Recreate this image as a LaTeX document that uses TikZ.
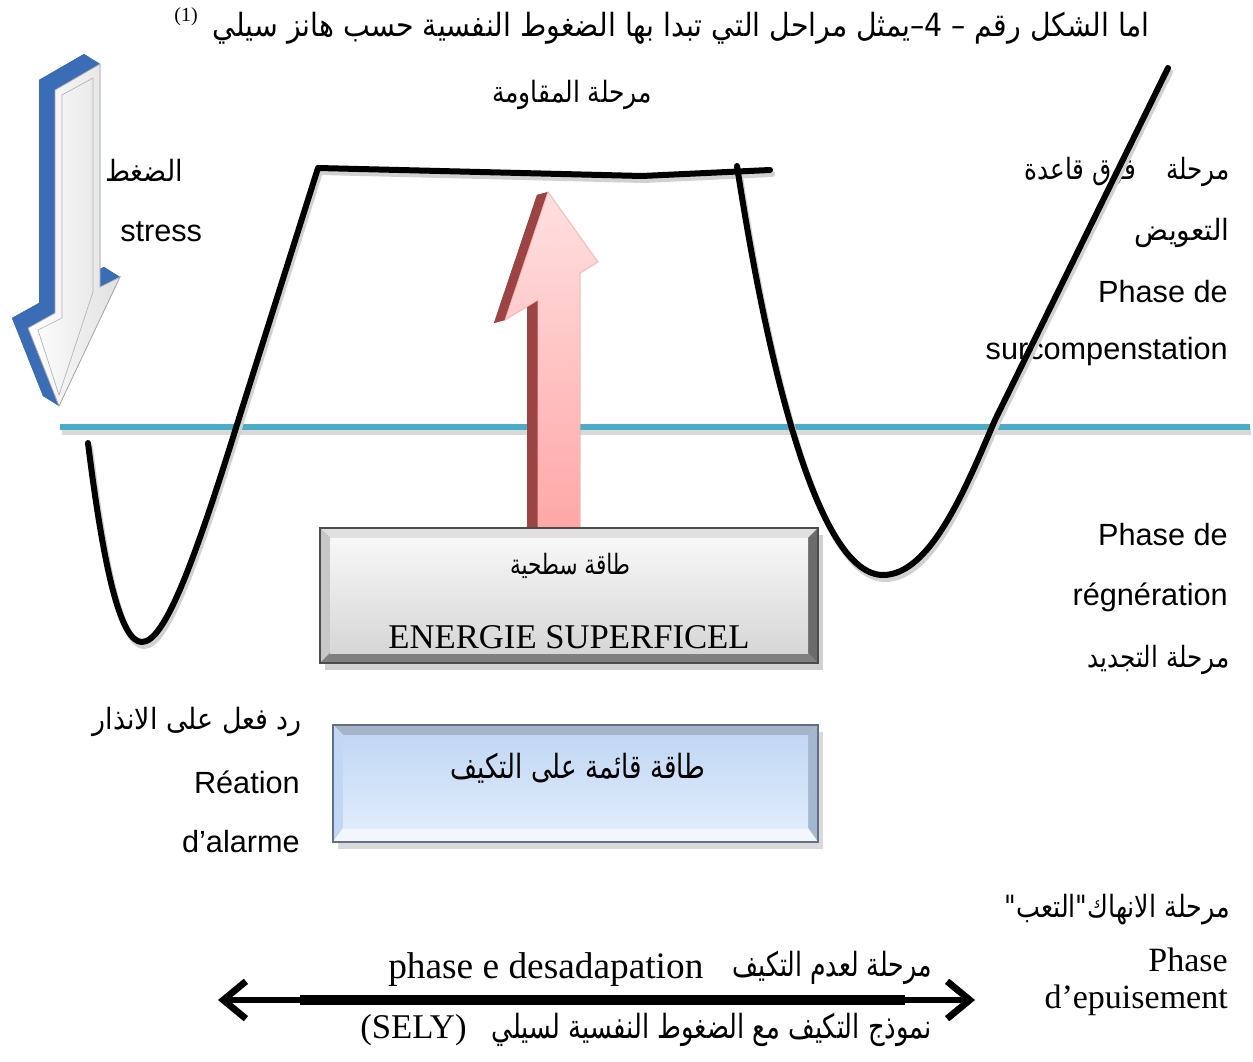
\documentclass[tikz,border=0pt]{standalone}
\usepackage{fontspec}
\usepackage{graphicx}
\setmainfont{Liberation Serif}
\newfontfamily\sanslat{Liberation Sans}
\newfontfamily\arabfont[Script=Arabic]{DejaVu Sans}
\TeXXeTstate=1
\usetikzlibrary{arrows.meta,calc}
\newcommand\arfit[3]{\resizebox{\dimexpr #1pt*3/4\relax}{\height}{\fontsize{#2pt}{#2pt}\selectfont\arabfont #3}}
\definecolor{lineblue}{HTML}{4BACC6}
\definecolor{arrblue}{HTML}{3A6DB5}
\definecolor{arrred}{HTML}{9C4444}
\definecolor{bxtop}{HTML}{C2D7F4}
\definecolor{bxbot}{HTML}{DFECFB}
\definecolor{bxbord}{HTML}{5E7187}
\tikzset{
  curve/.style={line width=4.5pt, line cap=round, line join=round},
  cshadow/.style={line width=4.5pt, draw=black!18, line cap=round, line join=round},
  sl/.style={font=\sanslat\fontsize{23pt}{26pt}\selectfont, inner sep=0pt},
  sr/.style={font=\fontsize{25.5pt}{28pt}\selectfont, inner sep=0pt},
  ar/.style={inner sep=0pt},
}
\begin{document}
\begin{tikzpicture}[x=0.75pt, y=-0.75pt]
\useasboundingbox (0,0) rectangle (1253,1062);

% ---- baseline (blue line)
\draw[line width=5pt, black!15] (62,432) -- (1251,432);
\draw[line width=5pt, lineblue] (60,427) -- (1250,427);

% ---- red arrow (3D)
\coordinate (r1) at (548,192);
\coordinate (r2) at (598,262);
\coordinate (r3) at (580,273);
\coordinate (r4) at (580,535);
\coordinate (r5) at (538,535);
\coordinate (r6) at (538,300);
\coordinate (r7) at (505,320);
\foreach \i in {1,...,7} \coordinate (s\i) at ($(r\i)+(-11,3)$);
\fill[arrred] (s1)--(s2)--(s3)--(s4)--(s5)--(s6)--(s7)--cycle;
\foreach \i/\j in {1/2,2/3,3/4,4/5,5/6,6/7,7/1}
  \fill[arrred] (r\i)--(r\j)--(s\j)--(s\i)--cycle;
\shade[top color=red!12, bottom color=red!35] (r1)--(r2)--(r3)--(r4)--(r5)--(r6)--(r7)--cycle;
\draw[red!30!white, line width=0.6pt] (r1)--(r2)--(r3)--(r4)--(r5)--(r6)--(r7)--cycle;

% ---- right labels (under the curve)
\node[ar, anchor=east] (t1) at (1230,172) {\arfit{205}{22}{\beginR مرحلة\hspace{1.2em}فوق قاعدة\endR}};
\node[ar, anchor=east] (t2) at (1230,233) {\arfit{95}{22}{\beginR التعويض\endR}};
\node[sl, anchor=east] (t3) at (1228,292) {Phase de};
\node[sl, anchor=east] (t4) at (1228,352) {surcompenstation};

% ---- black curves
\draw[cshadow, shift={(2,4)}] (88,443) .. controls (105,580) and (122,642) .. (142,642) .. controls (165,642) and (195,560) .. (240,415) -- (318,168) -- (642,176) -- (770,170);
\draw[cshadow, shift={(2,4)}] (737,166) .. controls (770,380) and (820,575) .. (883,575) .. controls (930,575) and (965,490) .. (995,420) -- (1168,68);
\draw[curve] (88,443) .. controls (105,580) and (122,642) .. (142,642) .. controls (165,642) and (195,560) .. (240,415) -- (318,168) -- (642,176) -- (770,170);
\draw[curve] (737,166) .. controls (770,380) and (820,575) .. (883,575) .. controls (930,575) and (965,490) .. (995,420) -- (1168,68);

% ---- blue stress arrow (3D)
\coordinate (p1) at (55,90);
\coordinate (p2) at (100,64);
\coordinate (p3) at (100,287);
\coordinate (p4) at (120,277);
\coordinate (p5) at (59,406);
\coordinate (p6) at (28,328);
\coordinate (p7) at (55,313);
\foreach \i in {1,...,7} \coordinate (q\i) at ($(p\i)+(-16,-10)$);
\fill[arrblue] (q1)--(q2)--(q3)--(q4)--(q5)--(q6)--(q7)--cycle;
\foreach \i/\j in {1/2,2/3,3/4,4/5,5/6,6/7,7/1}
  \fill[arrblue] (p\i)--(p\j)--(q\j)--(q\i)--cycle;
\shade[left color=white, right color=black!12] (p1)--(p2)--(p3)--(p4)--(p5)--(p6)--(p7)--cycle;
\draw[black!35, line width=0.6pt] (p1)--(p2)--(p3)--(p4)--(p5)--(p6)--(p7)--cycle;
\draw[black!30, line width=0.5pt] (62,95) -- (93,78) -- (93,292) -- (59,395) -- (38,330) -- (62,318) -- cycle;

% ---- box 1 (grey, bevelled)
\fill[black!18] (325,535) rectangle (823,670);
\fill[black!45] (320,528) rectangle (818,663);
\fill[black!12] (320,528) -- (818,528) -- (808,538) -- (330,538) -- cycle;
\fill[black!22] (320,528) -- (330,538) -- (330,653) -- (320,663) -- cycle;
\fill[black!58] (818,528) -- (808,538) -- (808,653) -- (818,663) -- cycle;
\fill[black!50] (320,663) -- (330,653) -- (808,653) -- (818,663) -- cycle;
\shade[top color=black!3, bottom color=black!16] (330,538) rectangle (808,653);
\draw[black!70, line width=1pt] (320,528) rectangle (818,663);

% ---- box 2 (blue, bevelled)
\fill[black!15] (338,732) rectangle (823,849);
\fill[bxtop!80!black!90] (333,725) -- (818,725) -- (808,735) -- (343,735) -- cycle;
\fill[bxtop] (333,725) -- (343,735) -- (343,828) -- (333,842) -- cycle;
\fill[bxtop!85!black] (818,725) -- (808,735) -- (808,828) -- (818,842) -- cycle;
\fill[bxbot!40!white] (333,842) -- (343,828) -- (808,828) -- (818,842) -- cycle;
\shade[top color=bxtop, bottom color=bxbot] (343,735) rectangle (808,828);
\draw[bxbord, line width=1pt] (333,725) rectangle (818,842);

% ---- texts
\node[ar, anchor=east] (title) at (1150,28) {\arfit{937}{24}{\beginR اما الشكل رقم – 4–يمثل مراحل التي تبدا بها الضغوط النفسية حسب هانز سيلي\endR}};
\node[inner sep=0pt, font=\fontsize{15pt}{17pt}\selectfont] (fn) at (186,17) {(1)};
\node[ar] (resist) at (572,95) {\arfit{160}{22}{\beginR مرحلة المقاومة\endR}};
\node[ar] (daght) at (144,170) {\arfit{78}{22}{\beginR الضغط\endR}};
\node[sl, anchor=west] (stress) at (120,232) {stress};

\node[sl, anchor=east] (t5) at (1228,535) {Phase de};
\node[sl, anchor=east] (t6) at (1228,597) {régnération};
\node[ar, anchor=east] (t7) at (1230,660) {\arfit{142}{22}{\beginR مرحلة التجديد\endR}};
\node[ar, anchor=east] (t8) at (1230,910) {\arfit{225}{23}{\beginR مرحلة الانهاك"التعب"\endR}};
\node[sr, anchor=east] (t9) at (1228,960) {Phase};
\node[sr, anchor=east] (t10) at (1228,1000) {d’epuisement};

\node[ar, anchor=east] (l1) at (302,722) {\arfit{209}{22}{\beginR رد فعل على الانذار\endR}};
\node[sl, anchor=east] (l2) at (300,782) {Réation};
\node[sl, anchor=east] (l3) at (300,842) {d’alarme};

\node[ar] (b1a) at (570,566) {\arfit{120}{21}{\beginR طاقة سطحية\endR}};
\node[inner sep=0pt, font=\fontsize{26pt}{28pt}\selectfont] (b1b) at (569,637) {ENERGIE SUPERFICEL};
\node[ar] (b2) at (578,768) {\arfit{255}{25}{\beginR طاقة قائمة على التكيف\endR}};

\node[ar] (bot1) at (832,968) {\arfit{199}{25}{\beginR مرحلة لعدم التكيف\endR}};
\node[inner sep=0pt, anchor=west, font=\fontsize{28pt}{30pt}\selectfont] (bot2) at (388,970) {phase e desadapation};
\node[ar, anchor=east] (bot3) at (932,1030) {\arfit{440}{25}{\beginR نموذج التكيف مع الضغوط النفسية لسيلي\endR}};
\node[inner sep=0pt, anchor=west, font=\fontsize{26pt}{28pt}\selectfont] (bot4) at (360,1030) {(SELY)};

% ---- double arrow
\coordinate (al) at (218,1000);
\coordinate (ar) at (975,1000);
\coordinate (m1) at (300,1000);
\coordinate (m2) at (905,1000);
\draw[line width=5pt, black!20, shift={(2,3)}, {Straight Barb[length=17pt,width=28pt]}-{Straight Barb[length=17pt,width=28pt]}] (al) -- (ar);
\draw[line width=5pt, {Straight Barb[length=17pt,width=28pt]}-{Straight Barb[length=17pt,width=28pt]}] (al) -- (ar);
\draw[line width=7pt] (m1) -- (m2);
\end{tikzpicture}
\end{document}
